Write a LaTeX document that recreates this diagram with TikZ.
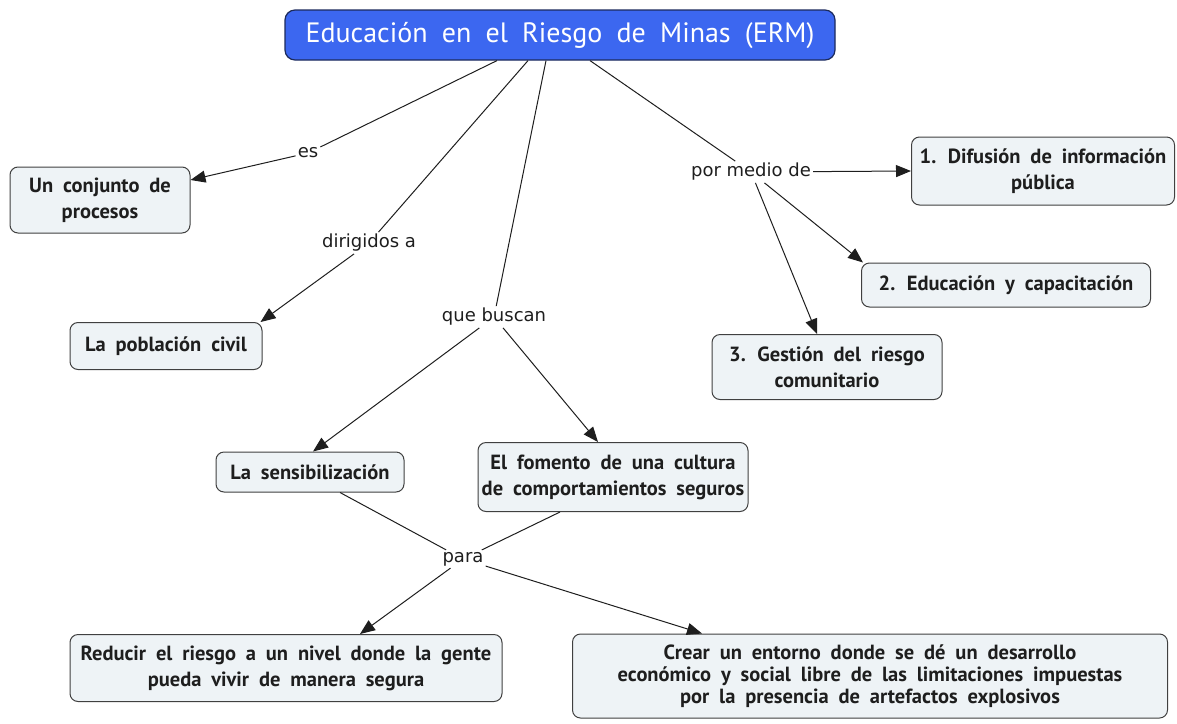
\documentclass[tikz,border=0pt]{standalone}
\usepackage{fontspec}
\setmainfont{PT Sans}[WordSpace={1.9,1,1}]
\newfontfamily\labelfont{DejaVu Sans}
\usetikzlibrary{arrows.meta}
\definecolor{boxfill}{HTML}{EEF3F6}
\definecolor{boxdraw}{HTML}{404040}
\definecolor{titlefill}{HTML}{3C67F0}
\definecolor{titledraw}{HTML}{1C2A5C}
\definecolor{ink}{HTML}{1E1E1E}
\begin{document}
\begin{tikzpicture}[x=1pt,y=-1pt,
  concept/.style={draw=boxdraw, line width=1pt, fill=boxfill, rounded corners=8pt,
    align=center, font=\fontsize{20.5}{26}\selectfont\bfseries, text=ink, inner sep=0pt},
  tight/.style={font=\fontsize{20.5}{22}\selectfont\bfseries},
  titlebox/.style={draw=titledraw, line width=1.2pt, fill=titlefill, rounded corners=10pt,
    font=\fontsize{28}{32}\selectfont, text=white, inner sep=0pt,
    minimum width=550pt, minimum height=50pt},
  lbl/.style={font=\labelfont\fontsize{18}{21}\selectfont, text=ink, inner sep=2pt},
  link/.style={line width=1pt, draw=ink},
  arr/.style={link, -{Triangle[length=15pt,width=12pt]}}]
\useasboundingbox (0,0) rectangle (1177,723);

% concept nodes
\node[titlebox] (title) at (560,35) {Educación en el Riesgo de Minas (ERM)};
\node[concept, minimum width=180pt, minimum height=66pt] (conj) at (100,200) {Un conjunto de\\procesos};
\node[concept, minimum width=192pt, minimum height=47pt] (pob) at (166,346) {La población civil};
\node[concept, minimum width=263pt, minimum height=68pt] (dif) at (1043,171) {1. Difusión de información\\pública};
\node[concept, minimum width=289pt, minimum height=44pt] (edu) at (1006,285) {2. Educación y capacitación};
\node[concept, minimum width=230pt, minimum height=65pt] (ges) at (827,367) {3. Gestión del riesgo\\comunitario};
\node[concept, minimum width=188pt, minimum height=40pt] (sens) at (310,472) {La sensibilización};
\node[concept, minimum width=270pt, minimum height=69pt] (fom) at (613,477) {El fomento de una cultura\\de comportamientos seguros};
\node[concept, minimum width=432pt, minimum height=67pt] (red) at (286,668) {Reducir el riesgo a un nivel donde la gente\\pueda vivir de manera segura};
\node[concept, tight, minimum width=595pt, minimum height=84pt] (crear) at (870,676) {Crear un entorno donde se dé un desarrollo\\económico y social libre de las limitaciones impuestas\\por la presencia de artefactos explosivos};

% linking phrases
\node[lbl] (es) at (308,153) {es};
\node[lbl] (dir) at (369,243) {dirigidos a};
\node[lbl] (que) at (494,317) {que buscan};
\node[lbl] (por) at (751,172) {por medio de};
\node[lbl] (para) at (463,559) {para};

% connectors
\draw[link] ([xshift=-63pt]title.south) -- (es);
\draw[arr] (es) -- ([yshift=20pt]conj.east);

\draw[link] ([xshift=-32pt]title.south) -- (dir);
\draw[arr] (dir) -- ([xshift=-2pt]pob.north east);

\draw[link] ([xshift=-14pt]title.south) -- (que);
\draw[arr] (que) -- ([xshift=3pt]sens.north);
\draw[arr] (que) -- ([xshift=-15pt]fom.north);

\draw[link] ([xshift=30pt]title.south) -- (por);
\draw[arr] (por) -- (dif.west);
\draw[arr] (por) -- ([xshift=2pt]edu.north west);
\draw[arr] (por) -- ([xshift=-10pt]ges.north);

\draw[link] ([xshift=30pt]sens.south) -- (para);
\draw[link] ([xshift=-53pt]fom.south) -- (para);
\draw[arr] (para) -- ([xshift=74pt]red.north);
\draw[arr] (para) -- ([xshift=-168pt]crear.north);
\end{tikzpicture}
\end{document}
